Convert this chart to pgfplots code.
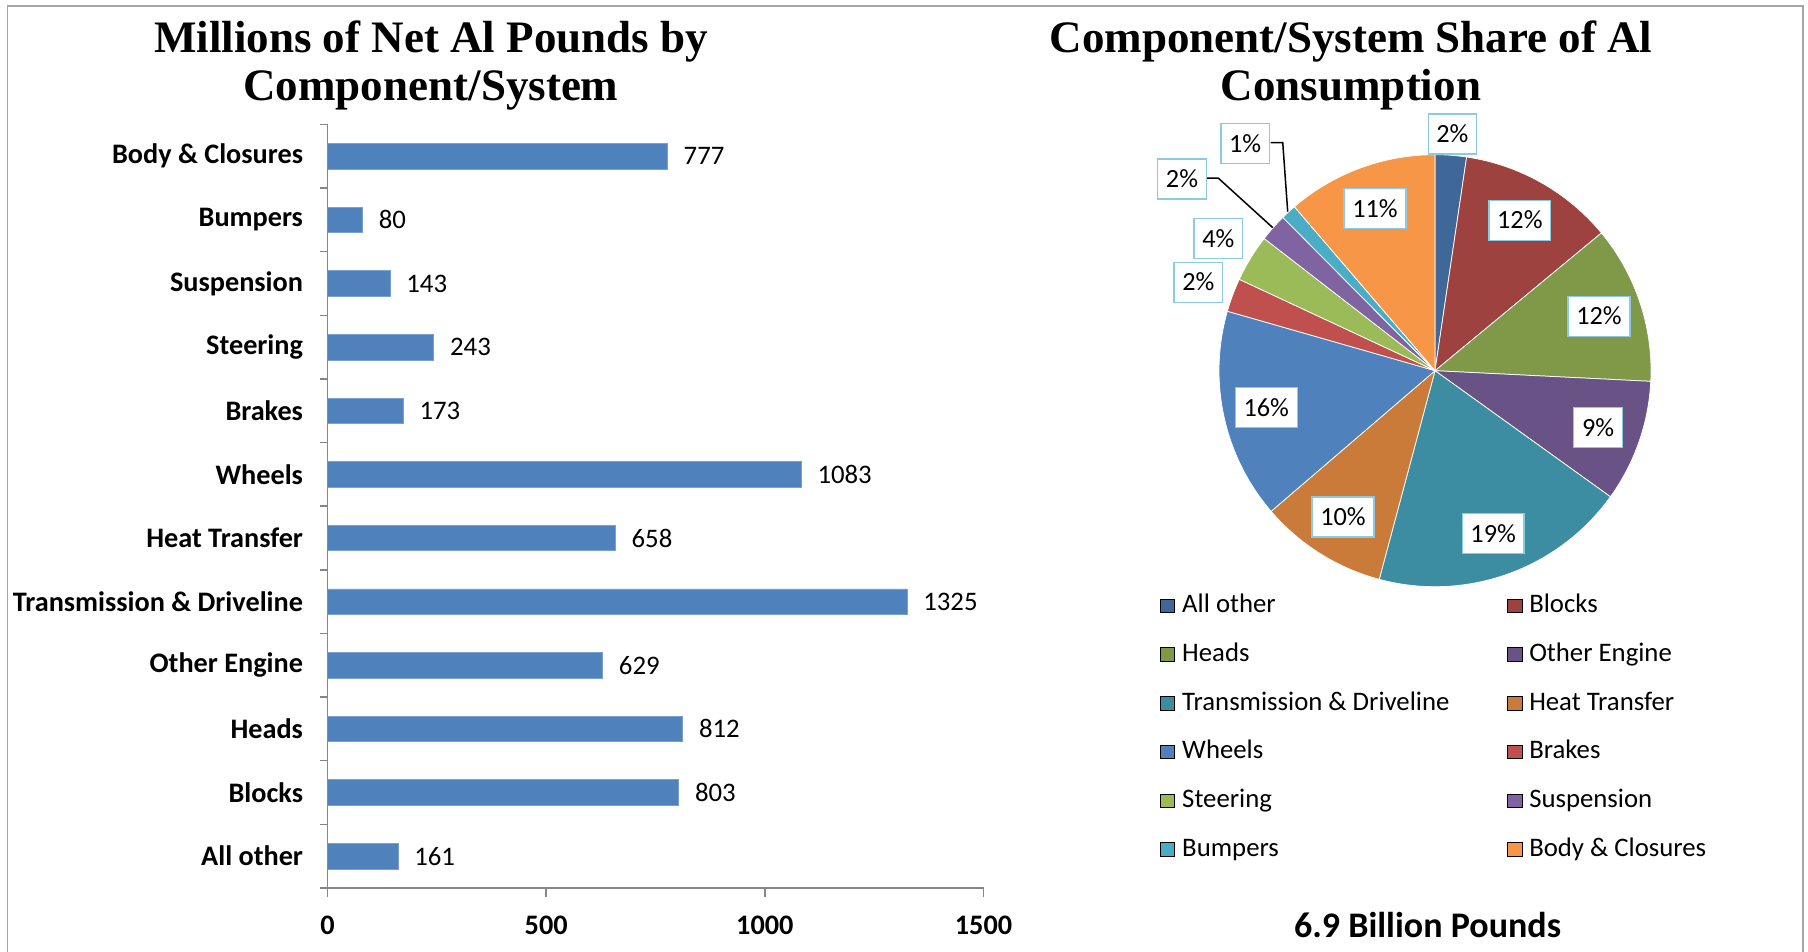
\documentclass[border=0pt]{standalone}
\usepackage{pgfplots}
\pgfplotsset{compat=1.18}
\usepackage{pgfplotstable}
\usepackage{fontspec}
\setmainfont{Carlito}
\newfontfamily\titlefont{Liberation Serif}

\definecolor{barblue}{HTML}{4F81BD}
\definecolor{axisgray}{HTML}{868686}
\definecolor{framegray}{HTML}{A6A6A6}
\definecolor{boxcyan}{HTML}{8CCBDD}
\definecolor{xred}{HTML}{C0504D}
\definecolor{xgreen}{HTML}{9BBB59}
\definecolor{xpurple}{HTML}{8064A2}
\definecolor{xaqua}{HTML}{4BACC6}
\definecolor{xorange}{HTML}{F79646}
\colorlet{slice0}{barblue!80!black}
\colorlet{slice1}{xred!82!black}
\colorlet{slice2}{xgreen!82!black}
\colorlet{slice3}{xpurple!82!black}
\colorlet{slice4}{xaqua!82!black}
\colorlet{slice5}{xorange!82!black}
\colorlet{slice6}{barblue}
\colorlet{slice7}{xred}
\colorlet{slice8}{xgreen}
\colorlet{slice9}{xpurple}
\colorlet{slice10}{xaqua}
\colorlet{slice11}{xorange}

\pgfplotsset{
  /pgf/number format/1000 sep={},
  /pgf/number format/assume math mode=true,
  sqlegend/.style={legend image code/.code={\fill[##1] (0pt,0pt) rectangle (5.8pt,5.4pt);}},
}
\tikzset{
  pctbox/.style={fill=white, draw=boxcyan, line width=0.5pt, inner xsep=3.3pt,
    inner ysep=0pt, minimum height=16pt, text height=6.9pt, text depth=0pt,
    font=\fontsize{10.5}{12}\selectfont},
}

\newcommand\fcat{\bfseries\fontsize{11.3}{13}\selectfont}
\newcommand\fval{\fontsize{10.7}{12}\selectfont}
\newcommand\ftitle{\titlefont\bfseries\fontsize{18}{20}\selectfont}

% net Al pounds (millions); pct = label shown on the pie; lr, da = label radius / angle shift
\pgfplotstableread{
y value pct lr da
0 161 2 1.099 0
1 803 12 0.8 0
2 812 12 0.8 0
3 629 9 0.8 0
4 1325 19 0.8 0
5 658 10 0.8 0
6 1083 16 0.8 0
7 173 2 1.17 0
8 243 4 1.175 0
9 143 2 1.47 4.3
10 80 1 1.37 -2.8
11 777 11 0.8 0
}\aldata

\begin{document}
\begin{tikzpicture}[x=0.4pt,y=0.4pt]
% slice angles from the data (clockwise from 12 o'clock)
\def\pietotal{0}
\pgfplotsforeachungrouped \i in {0,...,11}{%
  \pgfplotstablegetelem{\i}{value}\of\aldata
  \pgfmathsetmacro\pietotal{\pietotal+\pgfplotsretval}%
}
\def\piecum{0}
\pgfplotsforeachungrouped \i in {0,...,11}{%
  \pgfplotstablegetelem{\i}{value}\of\aldata \let\slV\pgfplotsretval
  \pgfmathsetmacro\slA{90-360*(\piecum/\pietotal)}%
  \pgfmathsetmacro\piecum{\piecum+\slV}%
  \pgfmathsetmacro\slB{90-360*(\piecum/\pietotal)}%
  \pgfplotstablegetelem{\i}{lr}\of\aldata \let\slR\pgfplotsretval
  \pgfplotstablegetelem{\i}{da}\of\aldata \let\slD\pgfplotsretval
  \pgfmathsetmacro\slX{\slR*cos((\slA+\slB)/2+\slD)}%
  \pgfmathsetmacro\slY{\slR*sin((\slA+\slB)/2+\slD)}%
  \pgfplotstablegetelem{\i}{pct}\of\aldata
  \expandafter\xdef\csname pieA\i\endcsname{\slA}%
  \expandafter\xdef\csname pieB\i\endcsname{\slB}%
  \expandafter\xdef\csname pieX\i\endcsname{\slX}%
  \expandafter\xdef\csname pieY\i\endcsname{\slY}%
  \expandafter\xdef\csname pieP\i\endcsname{\pgfplotsretval}%
}
\path[use as bounding box] (0,0) rectangle (1808,952);
\draw[framegray, line width=0.6pt] (7.7,-10) rectangle (1803,946);

% titles
\node[anchor=base, inner sep=0pt, font=\ftitle] at (431,899) {Millions of Net Al Pounds by};
\node[anchor=base, inner sep=0pt, font=\ftitle] at (431,851) {Component/System};
\node[anchor=base, inner sep=0pt, font=\ftitle] at (1351,899) {Component/System Share of Al};
\node[anchor=base, inner sep=0pt, font=\ftitle] at (1351,851) {Consumption};
\node[anchor=base, inner sep=0pt, font=\bfseries\fontsize{14.4}{16}\selectfont] at (1427.5,14.5) {6.9 Billion Pounds};

% bar chart
\begin{axis}[
    at={(131pt,25.6pt)}, anchor=south west,
    scale only axis, width=262.4pt, height=305.4pt,
    xbar, bar width=0.4,
    xmin=0, xmax=1500, ymin=-0.5, ymax=11.5,
    axis x line=bottom, axis y line=left,
    axis line style={axisgray, line width=0.6pt, -},
    xtick={0,500,1000,1500},
    ytick={0,...,11},
    yticklabels={All other, Blocks, Heads, Other Engine, Transmission \& Driveline,
      Heat Transfer, Wheels, Brakes, Steering, Suspension, Bumpers, Body \& Closures},
    minor ytick={-0.5,0.5,...,11.5},
    tick align=outside,
    major tick length=3.6pt, minor tick length=3.2pt,
    every tick/.style={axisgray, line width=0.6pt},
    major y tick style={draw=none},
    x tick label style={font=\fcat, inner sep=0pt, yshift=-7.5pt},
    y tick label style={font=\fcat, inner sep=0pt, anchor=east, xshift=-6pt},
    point meta=x,
    nodes near coords,
    nodes near coords style={font=\fval, anchor=west, inner sep=0pt, xshift=6.4pt, text=black},
]
\addplot[fill=barblue, draw=barblue!75!white, line width=0.3pt]
  table[x=value, y=y] {\aldata};
\end{axis}

% pie chart
\begin{axis}[
    at={(574pt,232.52pt)}, anchor=origin,
    x=86.4pt, y=86.4pt,
    xmin=-1.6, xmax=1.6, ymin=-1.4, ymax=1.4,
    hide axis, clip=false,
    legend columns=2,
    legend style={at={(0.1021,0.1329)}, anchor=north west, draw=none, fill=none,
      inner sep=0pt, outer sep=0pt, row sep=8.98pt,
      font=\fontsize{10.7}{12}\selectfont,
      nodes={inner sep=0pt, text height=8pt, text depth=2.5pt, text width=110pt, align=flush left},
      cells={anchor=base west},
      /tikz/every odd column/.append style={column sep=2.7pt},
      /tikz/every even column/.append style={column sep=19.9pt}},
]
\pgfplotsinvokeforeach{0,...,11}{
  \fill[slice#1, draw=white, line width=0.3pt] (axis cs:0,0)
    -- (axis cs:{cos(\csname pieA#1\endcsname)},{sin(\csname pieA#1\endcsname)})
    arc[start angle=\csname pieA#1\endcsname, end angle=\csname pieB#1\endcsname, radius=86.4pt]
    -- cycle;
}
% leader lines of the two outlying labels
\draw[black, line width=0.6pt] (axis cs:-1.057,0.891) -- (axis cs:-1.003,0.891) -- (axis cs:-0.751,0.662);
\draw[black, line width=0.6pt] (axis cs:-0.761,1.056) -- (axis cs:-0.705,1.056) -- (axis cs:-0.682,0.736);
\pgfplotsinvokeforeach{0,...,11}{
  \node[pctbox] at (axis cs:\csname pieX#1\endcsname,\csname pieY#1\endcsname) {\csname pieP#1\endcsname\%};
}
\addlegendimage{sqlegend, fill=slice0}\addlegendentry{All other}
\addlegendimage{sqlegend, fill=slice1}\addlegendentry{Blocks}
\addlegendimage{sqlegend, fill=slice2}\addlegendentry{Heads}
\addlegendimage{sqlegend, fill=slice3}\addlegendentry{Other Engine}
\addlegendimage{sqlegend, fill=slice4}\addlegendentry{Transmission \& Driveline}
\addlegendimage{sqlegend, fill=slice5}\addlegendentry{Heat Transfer}
\addlegendimage{sqlegend, fill=slice6}\addlegendentry{Wheels}
\addlegendimage{sqlegend, fill=slice7}\addlegendentry{Brakes}
\addlegendimage{sqlegend, fill=slice8}\addlegendentry{Steering}
\addlegendimage{sqlegend, fill=slice9}\addlegendentry{Suspension}
\addlegendimage{sqlegend, fill=slice10}\addlegendentry{Bumpers}
\addlegendimage{sqlegend, fill=slice11}\addlegendentry{Body \& Closures}
\end{axis}
\end{tikzpicture}
\end{document}
